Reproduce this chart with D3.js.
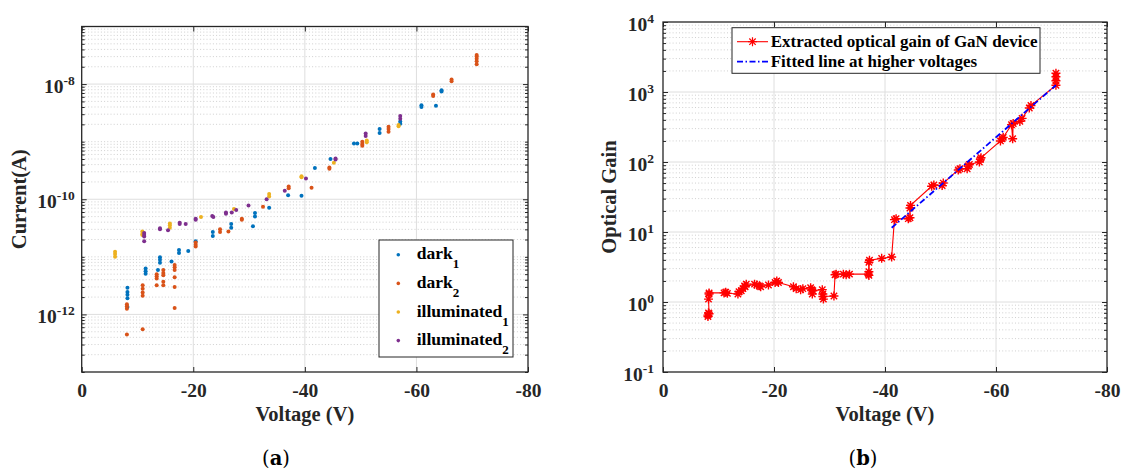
<!DOCTYPE html>
<html><head><meta charset="utf-8">
<script src="https://cdn.jsdelivr.net/npm/d3@7"></script>
<style>body{margin:0;background:#fff}svg{display:block}</style>
</head><body>
<svg id="c" width="1132" height="472"></svg>
<script>
// ---------- data ----------
const xTicks = [0, -20, -40, -60, -80];
const leftYExp = [-12, -10, -8];          // labelled decades (10^n)
const rightYExp = [-1, 0, 1, 2, 3, 4];
const legendNames = ["dark", "dark", "illuminated", "illuminated"];
const legendSubs = ["1", "2", "1", "2"];
const seriesColors = ["#0072BD", "#D95319", "#EDB120", "#7E2F8E"];

const dark1V = [-8.2,-8.2,-8.2,-8.2,-8.2,-11.46,-11.46,-11.46,-13.67,-14.03,-14.03,-14.03,-16.1,-17.44,-17.44,-19.1,-20.43,-23.5,-23.5,-26.8,-26.8,-30.7,-31.06,-31.06,-33.6,-37.0,-39.4,-41.8,-44.6,-48.8,-49.4,-53.4,-53.4,-57.1,-57.1,-60.9,-60.9,-63.5,-64.5,-64.5];
const dark1I = [2.9e-12,2.45e-12,2.2e-12,1.9e-12,1.35e-12,6.3e-12,5.6e-12,5.1e-12,5.9e-12,9.8e-12,8.9e-12,7.9e-12,8.3e-12,1.32e-11,1.17e-11,1.26e-11,1.86e-11,2.7e-11,2.3e-11,3.7e-11,3.2e-11,3.4e-11,5.75e-11,5.0e-11,7.1e-11,1.17e-10,1.15e-10,3.5e-10,5.0e-10,9.3e-10,9.3e-10,1.66e-9,1.41e-9,2.24e-9,2.05e-9,4.3e-9,4.0e-9,4.2e-9,7.8e-9,7.4e-9];

const dark2V = [-8.1,-8.1,-8.1,-8.1,-10.93,-10.93,-10.93,-10.93,-10.93,-13.44,-13.44,-13.44,-13.44,-14.63,-14.63,-14.63,-14.63,-14.63,-16.66,-16.66,-16.66,-16.66,-16.66,-16.66,-20.43,-20.43,-20.43,-24.8,-24.8,-26.3,-28.7,-28.7,-32.5,-37.1,-37.1,-41.2,-44.4,-44.4,-50.3,-50.3,-50.3,-55.0,-55.0,-55.0,-63.0,-63.0,-66.3,-66.3,-70.8,-70.8,-70.8,-70.8,-70.8];
const dark2I = [1.5e-12,1.38e-12,1.26e-12,4.5e-13,3.2e-12,2.8e-12,2.4e-12,2.1e-12,5.5e-13,5.0e-12,4.6e-12,4.2e-12,3.2e-12,5.9e-12,5.25e-12,4.8e-12,3.7e-12,3.2e-12,7.2e-12,6.6e-12,5.9e-12,4.4e-12,3.0e-12,1.29e-12,1.78e-11,1.62e-11,1.51e-11,3.0e-11,2.7e-11,2.75e-11,4.6e-11,4.4e-11,7.4e-11,1.66e-10,1.55e-10,1.58e-10,3.55e-10,3.4e-10,1.0e-9,9.1e-10,8.5e-10,1.82e-9,1.66e-9,1.48e-9,6.6e-9,6.2e-9,1.2e-8,1.12e-8,3.2e-8,3.0e-8,2.75e-8,2.5e-8,2.2e-8];

const illum1V = [-5.98,-5.98,-5.98,-10.87,-10.87,-10.87,-15.8,-15.8,-15.8,-21.38,-27.3,-33.6,-33.6,-39.4,-39.4,-45.2,-51.1,-51.1,-56.8,-56.8];
const illum1I = [1.23e-11,1.12e-11,1.0e-11,2.75e-11,2.5e-11,2.4e-11,3.8e-11,3.55e-11,3.2e-11,4.9e-11,6.8e-11,1.23e-10,1.12e-10,2.5e-10,2.4e-10,4.3e-10,1.05e-9,9.8e-10,1.95e-9,1.86e-9];

const illum2V = [-11.2,-11.2,-11.2,-11.2,-14.03,-14.03,-15.47,-17.56,-17.56,-18.64,-20.43,-20.43,-23.4,-23.6,-25.86,-25.86,-26.9,-27.7,-29.9,-33.15,-36.4,-40.2,-45.5,-45.5,-50.9,-50.9,-57.1,-57.1];
const illum2I = [2.6e-11,2.4e-11,2.25e-11,1.86e-11,3.0e-11,3.15e-11,2.9e-11,3.9e-11,3.7e-11,3.7e-11,4.6e-11,4.4e-11,5.1e-11,4.9e-11,5.9e-11,5.6e-11,5.9e-11,6.5e-11,7.8e-11,1.0e-10,1.41e-10,2.3e-10,4.9e-10,5.1e-10,1.38e-9,1.26e-9,2.8e-9,2.5e-9];

const gainV = [-8.1,-8.1,-8.2,-8.3,-8.2,-8.3,-8.3,-11.0,-11.3,-11.6,-13.5,-13.7,-14.1,-14.4,-14.7,-15.0,-14.8,-16.5,-16.9,-17.4,-17.6,-19.0,-20.2,-20.5,-20.8,-23.5,-24.0,-24.8,-25.2,-26.6,-26.8,-26.9,-27.0,-28.7,-28.8,-28.9,-28.8,-30.8,-31.0,-31.2,-32.5,-33.0,-33.6,-37.0,-37.1,-37.1,-37.1,-37.2,-39.4,-41.2,-41.7,-42.0,-44.2,-44.5,-44.5,-44.6,-48.4,-48.8,-50.3,-50.5,-53.2,-53.5,-54.8,-55.0,-55.2,-57.0,-57.2,-57.3,-60.8,-61.1,-61.3,-62.8,-63.0,-63.1,-64.3,-64.7,-66.0,-66.3,-70.8,-70.8,-70.8,-70.8];
const gainG = [0.62,0.65,0.70,0.68,1.1,1.3,1.35,1.35,1.38,1.33,1.3,1.4,1.45,1.55,1.7,1.8,1.65,1.8,1.75,1.7,1.65,1.75,1.9,2.0,1.9,1.65,1.55,1.5,1.55,1.6,1.5,1.3,1.45,1.5,1.3,1.1,1.2,1.22,2.45,2.5,2.5,2.45,2.5,2.5,2.4,2.7,3.7,3.95,4.2,4.4,15,15.5,15.5,16,22,24,45,47,46,50,77,80,80,88,92,100,110,115,200,215,225,340,215,355,380,420,590,640,1250,1450,1650,1850];

const fitV = [-41.2, -70.8];
const fitG = [11.5, 1250];

// ---------- style ----------
const FONT = "'Liberation Serif','Times New Roman',serif";
const INK = "#262626";
const svg = d3.select("#c");

function drawPanel(o) {
  const g = svg.append("g");
  const [x0, x1] = o.x.range(), [yb, yt] = o.y.range();
  const [e0, e1] = o.decades;
  const minorVals = [], minorDec = [];
  for (let e = e0; e < e1; e++) {
    for (let m = 2; m <= 9; m++) minorVals.push(m * Math.pow(10, e));
  }
  for (let e = e0 + 1; e < e1; e++) if (!o.yMajor.includes(e)) minorDec.push(Math.pow(10, e));
  g.selectAll(".mg").data(minorVals.concat(minorDec)).enter().append("line")
    .attr("x1", x0).attr("x2", x1).attr("y1", d => o.y(d)).attr("y2", d => o.y(d))
    .attr("stroke", "#c4c4c4").attr("stroke-width", 0.8).attr("stroke-dasharray", "1,2.2");
  g.selectAll(".Mg").data(o.yMajor.map(e => Math.pow(10, e)).filter(v => o.y(v) < yb - 1 && o.y(v) > yt + 1))
    .enter().append("line")
    .attr("x1", x0).attr("x2", x1).attr("y1", d => o.y(d)).attr("y2", d => o.y(d))
    .attr("stroke", "#dedede").attr("stroke-width", 1);
  g.selectAll(".Mx").data(xTicks.slice(1, -1)).enter().append("line")
    .attr("y1", yb).attr("y2", yt).attr("x1", d => o.x(d)).attr("x2", d => o.x(d))
    .attr("stroke", "#dedede").attr("stroke-width", 1);

  const ax = g.append("g").attr("transform", `translate(0,${yb})`)
    .call(d3.axisBottom(o.x).tickValues(xTicks).tickSizeInner(-5).tickSizeOuter(0).tickPadding(11.5).tickFormat(d => d === 0 ? "0" : String(d)));
  ax.select(".domain").remove();
  ax.selectAll("line").attr("stroke", INK);
  ax.selectAll("text").attr("font-family", FONT).attr("font-weight", "bold").attr("font-size", 19.5).attr("fill", INK);
  const axT = g.append("g").attr("transform", `translate(0,${yt})`)
    .call(d3.axisTop(o.x).tickValues(xTicks).tickSizeInner(-5).tickSizeOuter(0).tickFormat(""));
  axT.select(".domain").remove(); axT.selectAll("line").attr("stroke", INK);

  const majVals = o.yMajor.map(e => Math.pow(10, e));
  const tickAll = d3.range(e0, e1 + 1).map(e => Math.pow(10, e)).filter(v => !majVals.includes(v)).concat(minorVals);
  [[d3.axisLeft, x0], [d3.axisRight, x1]].forEach(([fn, xp]) => {
    const a1 = g.append("g").attr("transform", `translate(${xp},0)`)
      .call(fn(o.y).tickValues(majVals).tickSizeInner(-5).tickSizeOuter(0).tickFormat(""));
    a1.select(".domain").remove(); a1.selectAll("line").attr("stroke", INK);
    const a2 = g.append("g").attr("transform", `translate(${xp},0)`)
      .call(fn(o.y).tickValues(tickAll).tickSizeInner(-3).tickSizeOuter(0).tickFormat(""));
    a2.select(".domain").remove(); a2.selectAll("line").attr("stroke", INK);
  });

  const lab = g.selectAll(".yl").data(o.yMajor).enter().append("text")
    .attr("x", x0 - o.labGap).attr("y", d => o.y(Math.pow(10, d)) + 8.5)
    .attr("text-anchor", "end").attr("font-family", FONT).attr("font-weight", "bold")
    .attr("font-size", 19.5).attr("fill", INK);
  lab.append("tspan").text("10");
  lab.append("tspan").attr("font-size", 13.5).attr("dy", -8).text(d => String(d));

  g.append("rect").attr("x", x0).attr("y", yt).attr("width", x1 - x0).attr("height", yb - yt)
    .attr("fill", "none").attr("stroke", INK).attr("stroke-width", 1.3);

  g.append("text").attr("x", (x0 + x1) / 2).attr("y", 421).attr("text-anchor", "middle")
    .attr("font-family", FONT).attr("font-weight", "bold").attr("font-size", 20.5).attr("fill", INK)
    .text("Voltage (V)");
  g.append("text").attr("transform", `translate(${o.ylx},${(yb + yt) / 2}) rotate(-90)`)
    .attr("text-anchor", "middle").attr("font-family", FONT).attr("font-weight", "bold")
    .attr("font-size", 20.5).attr("fill", INK).text(o.ylabel);
  const cap = g.append("text").attr("x", o.capX).attr("y", 465).attr("text-anchor", "middle")
    .attr("font-family", "'DejaVu Serif',serif").attr("font-size", 19.5).attr("fill", "#000");
  cap.append("tspan").text("(");
  cap.append("tspan").attr("font-weight", "bold").text(o.cap);
  cap.append("tspan").text(")");
  return g;
}

// ---------- left panel ----------
const xL = d3.scaleLinear().domain([0, -80]).range([81.7, 528]);
const yL = d3.scaleLog().domain([1e-13, 1e-7]).range([372, 26.5]);
const gL = drawPanel({x: xL, y: yL, decades: [-13, -7], yMajor: leftYExp, labGap: 7,
  ylabel: "Current(A)", ylx: 26, capX: 276, cap: "a"});

const seriesV = [dark1V, dark2V, illum1V, illum2V];
const seriesI = [dark1I, dark2I, illum1I, illum2I];
const dots = gL.insert("g", "rect");
seriesV.forEach((vs, k) => {
  dots.selectAll(null).data(vs.map((v, i) => [v, seriesI[k][i]])).enter().append("circle")
    .attr("cx", d => xL(d[0])).attr("cy", d => yL(d[1])).attr("r", 2)
    .attr("fill", seriesColors[k]);
});

const lg = gL.append("g");
lg.append("rect").attr("x", 379).attr("y", 240).attr("width", 134).attr("height", 117)
  .attr("fill", "#fff").attr("stroke", INK).attr("stroke-width", 1);
legendNames.forEach((nm, k) => {
  const by = 259.3 + k * 28.6;
  lg.append("circle").attr("cx", 398.3).attr("cy", by - 4.5).attr("r", 1.8).attr("fill", seriesColors[k]);
  const t = lg.append("text").attr("x", 416.7).attr("y", by).attr("font-family", FONT)
    .attr("font-weight", "bold").attr("font-size", 17.5).attr("fill", "#000");
  t.append("tspan").text(nm);
  t.append("tspan").attr("font-size", 13).attr("dy", 9).text(legendSubs[k]);
});

// ---------- right panel ----------
const xR = d3.scaleLinear().domain([0, -80]).range([663, 1107]);
const yR = d3.scaleLog().domain([0.1, 1e4]).range([372, 22]);
const gR = drawPanel({x: xR, y: yR, decades: [-1, 4], yMajor: rightYExp, labGap: 9,
  ylabel: "Optical Gain", ylx: 616, capX: 863, cap: "b"});

const starPath = "M-4.5,0H4.5M0,-4.5V4.5M-3.2,-3.2L3.2,3.2M-3.2,3.2L3.2,-3.2";
const plotR = gR.insert("g", "rect");
const gainPts = gainV.map((v, i) => [v, gainG[i]]);
plotR.append("path").datum(gainPts)
  .attr("d", d3.line().x(d => xR(d[0])).y(d => yR(d[1])))
  .attr("fill", "none").attr("stroke", "#ff0000").attr("stroke-width", 1.1);
plotR.selectAll(null).data(gainPts).enter().append("path")
  .attr("transform", d => `translate(${xR(d[0])},${yR(d[1])})`)
  .attr("d", starPath).attr("stroke", "#ff0000").attr("stroke-width", 1.4).attr("fill", "none");
plotR.append("path").datum(fitV.map((v, i) => [v, fitG[i]]))
  .attr("d", d3.line().x(d => xR(d[0])).y(d => yR(d[1])))
  .attr("fill", "none").attr("stroke", "#0000ff").attr("stroke-width", 1.8)
  .attr("stroke-dasharray", "6,2.5,1.5,2.5");

const rl = gR.append("g");
rl.append("rect").attr("x", 732).attr("y", 27.7).attr("width", 308).attr("height", 45.6)
  .attr("fill", "#fff").attr("stroke", INK).attr("stroke-width", 1);
rl.append("line").attr("x1", 737).attr("x2", 768).attr("y1", 41.7).attr("y2", 41.7)
  .attr("stroke", "#ff0000").attr("stroke-width", 1.1);
rl.append("path").attr("transform", "translate(752.5,41.7)").attr("d", starPath)
  .attr("stroke", "#ff0000").attr("stroke-width", 1.2);
rl.append("line").attr("x1", 737).attr("x2", 768).attr("y1", 61.7).attr("y2", 61.7)
  .attr("stroke", "#0000ff").attr("stroke-width", 1.8).attr("stroke-dasharray", "6,2.5,1.5,2.5");
[["Extracted optical gain of GaN device", 47.2], ["Fitted line at higher voltages", 66.9]].forEach(([t, y]) => {
  rl.append("text").attr("x", 770.7).attr("y", y).attr("font-family", FONT).attr("font-weight", "bold")
    .attr("font-size", 17).attr("fill", "#000").text(t);
});
</script>
</body></html>
